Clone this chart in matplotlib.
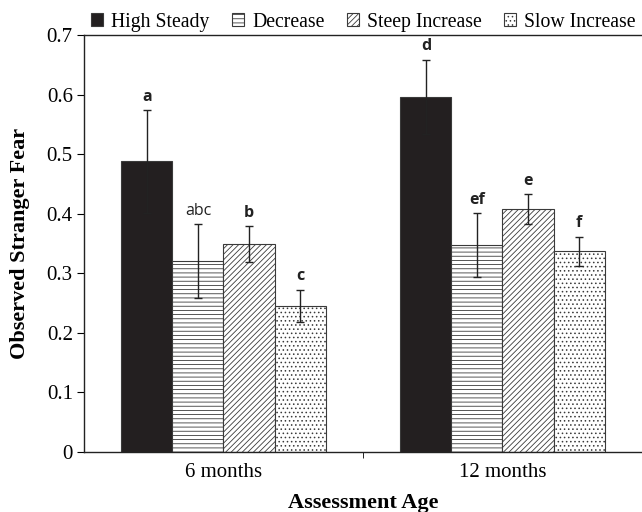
import matplotlib
matplotlib.use("Agg")
import matplotlib.pyplot as plt
import numpy as np

# Data
ages = ["6 months", "12 months"]
groups = ["High Steady", "Decrease", "Steep Increase", "Slow Increase"]
means = {
    "High Steady": [0.488, 0.596],
    "Decrease": [0.320, 0.347],
    "Steep Increase": [0.349, 0.408],
    "Slow Increase": [0.245, 0.337],
}
errors = {
    "High Steady": [0.086, 0.062],
    "Decrease": [0.062, 0.054],
    "Steep Increase": [0.030, 0.025],
    "Slow Increase": [0.027, 0.024],
}
letters = {
    "High Steady": ["a", "d"],
    "Decrease": ["abc", "ef"],
    "Steep Increase": ["b", "e"],
    "Slow Increase": ["c", "f"],
}
ytick_labels = ["0", "0.1", "0.2", "0.3", "0.4", "0.5", "0.6", "0.7"]

styles = {
    "High Steady": dict(facecolor="#231f20", hatch=None),
    "Decrease": dict(facecolor="white", hatch="----"),
    "Steep Increase": dict(facecolor="white", hatch="//////"),
    "Slow Increase": dict(facecolor="white", hatch="...."),
}

plt.rcParams["hatch.linewidth"] = 0.6
plt.rcParams["hatch.color"] = "#222222"

fig = plt.figure(figsize=(6.42, 5.12), dpi=100)
ax = fig.add_axes([0.1308, 0.1172, 0.8692, 0.8144])

x = np.arange(len(ages))
width = 0.183
handles = []
for i, g in enumerate(groups):
    pos = x + (i - 1.5) * width
    b = ax.bar(pos, means[g], width, color=styles[g]["facecolor"], hatch=styles[g]["hatch"],
               edgecolor="#3a3a3a", linewidth=0.8, label=g, zorder=2)
    handles.append(b)
    ax.errorbar(pos, means[g], yerr=errors[g], fmt="none", ecolor="#222222",
                elinewidth=1.0, capsize=2.8, capthick=1.0, zorder=3)
    for p, m, e, lab in zip(pos, means[g], errors[g], letters[g]):
        weight = "normal" if lab == "abc" else "bold"
        ax.annotate(lab, (p, m + e), xytext=(0, 4), textcoords="offset points",
                    ha="center", va="bottom", fontsize=11.5, fontweight=weight,
                    family="Open Sans", color="#222222")

ax.set_xlim(-0.5, 1.5)
ax.set_ylim(0, 0.7)
ax.set_yticks(np.arange(0, 0.71, 0.1))
ax.set_yticklabels(ytick_labels, family="Liberation Serif", fontsize=15)
ax.set_xticks(x)
ax.set_xticklabels(ages, family="Liberation Serif", fontsize=15)
ax.set_xticks([0.5], minor=True)
ax.tick_params(axis="x", which="major", length=0, pad=8)
ax.tick_params(axis="x", which="minor", length=4, direction="out")
ax.tick_params(axis="y", length=5, direction="out", pad=3)
ax.spines["right"].set_visible(False)
for s in ["left", "top", "bottom"]:
    ax.spines[s].set_color("#222222")
    ax.spines[s].set_linewidth(1.0)

ax.set_ylabel("Observed Stranger Fear", family="Liberation Serif", fontsize=16,
              fontweight="bold", labelpad=12)
ax.set_xlabel("Assessment Age", family="Liberation Serif", fontsize=16,
              fontweight="bold", labelpad=8)

fig.legend(handles=handles, labels=groups, loc="center", bbox_to_anchor=(0.566, 0.957),
           ncol=4, frameon=False, handlelength=0.6, handleheight=0.6,
           handletextpad=0.4, columnspacing=1.15,
           prop=dict(family="Liberation Serif", size=14.2))

fig.savefig("out.png", dpi=100)
